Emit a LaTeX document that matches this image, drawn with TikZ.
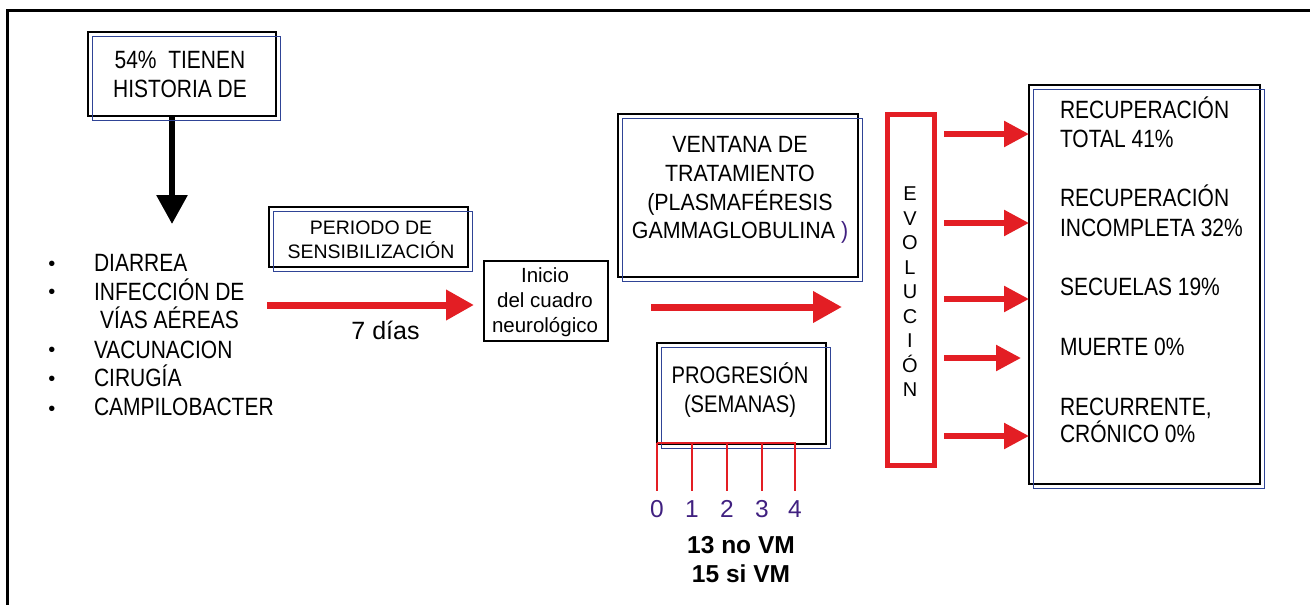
\documentclass[tikz,border=0pt]{standalone}
\usepackage{fontspec}
\setmainfont{Liberation Sans}
\newfontfamily\condf[FakeStretch=0.84]{Liberation Sans}
\newfontfamily\condg[FakeStretch=0.91]{Liberation Sans}
\usetikzlibrary{arrows.meta}
\definecolor{rd}{RGB}{227,30,36}
\definecolor{bl}{RGB}{47,68,150}
\definecolor{pu}{RGB}{64,32,128}
\begin{document}
\begin{tikzpicture}[x=1pt,y=-1pt,
  bbox/.style={draw=black,line width=1.5pt,outer sep=0pt,inner sep=0pt},
  bluebox/.style={draw=bl,line width=1.2pt},
  txt/.style={inner sep=0pt,outer sep=0pt},
  redarrow/.style={draw=rd,line width=7pt,-{Triangle[length=28pt,width=29pt]}},
  evarrow/.style={draw=rd,line width=5.5pt,-{Triangle[length=25pt,width=25pt]}},
  blackarrow/.style={draw=black,line width=6pt,-{Triangle[length=29pt,width=30pt]}},
  lst/.style={txt,font=\condf\fontsize{25}{29}\selectfont,anchor=base west},
  bul/.style={txt,font=\fontsize{20}{24}\selectfont,anchor=base},
  outc/.style={txt,font=\condf\fontsize{25}{29}\selectfont,anchor=base west},
  tickline/.style={draw=rd,line width=1.5pt},
  digit/.style={txt,font=\fontsize{24.5}{29}\selectfont,text=pu}
]
\useasboundingbox (0,0) rectangle (1310,605);
% frame
\draw[line width=2.5pt] (7.5,605) -- (7.5,10.5) -- (1310,10.5);

% box 54%
\node[bbox,minimum width=188pt,minimum height=84pt] (b1) at (182,74) {};
\node[txt,font=\condf\fontsize{25}{29}\selectfont,align=center] (b1t) at (180,74) {54\%~~TIENEN\\HISTORIA DE};
\coordinate (ba) at (172,224);
\draw[blackarrow] (b1.south -| ba) -- (ba);

% list
\node[bul] (u1) at (52,270) {\textbullet};
\node[bul] (u2) at (52,298) {\textbullet};
\node[bul] (u3) at (52,356) {\textbullet};
\node[bul] (u4) at (52,385) {\textbullet};
\node[bul] (u5) at (52,415) {\textbullet};
\node[lst] (l1) at (94,271.5) {DIARREA};
\node[lst] (l2) at (94,300) {INFECCIÓN DE};
\node[lst] (l3) at (100,328) {VÍAS AÉREAS};
\node[lst] (l4) at (94,358) {VACUNACION};
\node[lst] (l5) at (94,386.5) {CIRUGÍA};
\node[lst] (l6) at (94,415) {CAMPILOBACTER};

% periodo
\node[bbox,minimum width=199pt,minimum height=60pt] (per) at (368.5,237) {};
\node[txt,font=\fontsize{19.5}{24}\selectfont,align=center] (pert) at (371,239.5) {PERIODO DE\\SENSIBILIZACIÓN};

% inicio
\node[bbox,minimum width=124pt,minimum height=80pt] (ini) at (546,301) {};
\node[txt,font=\fontsize{20.5}{25}\selectfont,align=center] (init) at (545,302) {Inicio\\del cuadro\\neurológico};

\coordinate (a1) at (267,305);
\draw[redarrow,shorten >=10pt] (a1) -- (a1 -| ini.west);
\node[txt,font=\fontsize{25}{29}\selectfont,anchor=base] (dias) at (385.5,339) {7 días};

% ventana
\node[bbox,minimum width=240pt,minimum height=163pt] (ven) at (738,195.5) {};
\node[txt,font=\condg\fontsize{23.5}{28.7}\selectfont,align=center] (vent) at (740,190) {VENTANA DE\\TRATAMIENTO\\(PLASMAFÉRESIS\\GAMMAGLOBULINA {\color{pu})}};

% evolucion
\node[draw=rd,line width=5pt,minimum width=47pt,minimum height=351pt,inner sep=0pt] (evol) at (911,290) {};
\node[txt,font=\fontsize{20}{24.5}\selectfont,align=center] (evolt) at (910,292) {E\\V\\O\\L\\U\\C\\I\\Ó\\N};

\coordinate (a2) at (651,307);
\draw[redarrow,-{Triangle[length=29pt,width=30pt]},shorten >=43pt] (a2) -- (a2 -| evol.west);

% progresion
\node[bbox,minimum width=169pt,minimum height=101pt] (prog) at (741.5,393.5) {};
\node[txt,font=\condf\fontsize{24}{29.5}\selectfont,align=center] (progt) at (740,390) {PROGRESIÓN\\(SEMANAS)};

% outcomes
\node[bbox,minimum width=231pt,minimum height=399pt] (out) at (1144.5,284.5) {};
\node[outc] (o1) at (1060,118.3) {RECUPERACIÓN};
\node[outc] (o2) at (1060,147.7) {TOTAL 41\%};
\node[outc] (o3) at (1060,206.7) {RECUPERACIÓN};
\node[outc] (o4) at (1060,236) {INCOMPLETA 32\%};
\node[outc] (o5) at (1060,295) {SECUELAS 19\%};
\node[outc] (o6) at (1060,355) {MUERTE 0\%};
\node[outc] (o7) at (1060,415) {RECURRENTE,};
\node[outc] (o8) at (1060,442.7) {CRÓNICO 0\%};

% blue offset frames
\foreach \n in {b1,per,ven,prog,out}
  \draw[bluebox] ([shift={(4.5,4.5)}]\n.south west) rectangle ([shift={(4.5,4.5)}]\n.north east);

% evolution arrows
\foreach \y/\s [count=\i] in {134/0,223/0,299/0,358/8,436/0} {
  \coordinate (e\i) at (944,\y);
  \draw[evarrow,shorten >=\s pt] (e\i) -- (e\i -| out.west);
}

% progression scale
\draw[tickline] (657,443) -- (796,443);
\foreach \x/\d [count=\i] in {657/0,692/1,727/2,762/3,795/4} {
  \draw[tickline] (\x,443) -- (\x,491);
  \node[digit] (d\i) at (\x,509) {\d};
}
\node[txt,font=\bfseries\fontsize{24.5}{29}\selectfont,align=center] (vm) at (741,560) {13 no VM\\15 si VM};
\end{tikzpicture}
\end{document}
